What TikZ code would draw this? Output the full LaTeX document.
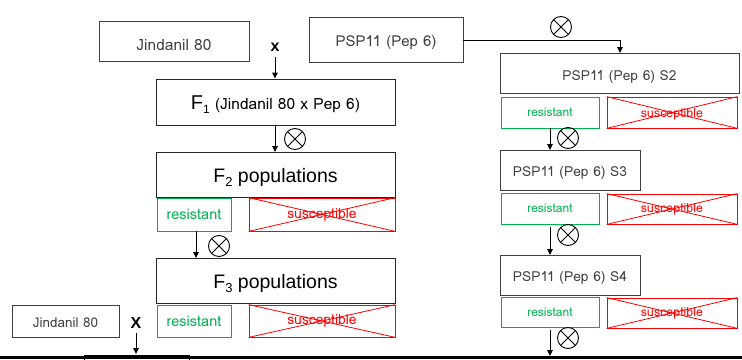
\documentclass[tikz,border=0pt]{standalone}
\usepackage{fontspec}
\setmainfont{Loma}
\newfontfamily\arialf{Liberation Sans}
\usetikzlibrary{arrows.meta}
\definecolor{boxgray}{HTML}{404040}
\definecolor{resgreen}{HTML}{00B050}
\definecolor{susred}{HTML}{FF0000}
\newcommand{\fsz}[1]{\fontsize{#1}{#1}\selectfont}
\newcommand{\dn}[2][3pt]{\raisebox{-#1}[\height][\depth]{#2}}
\tikzset{
  box/.style={draw=boxgray, line width=0.9pt, inner sep=0pt, text=boxgray},
  fbox/.style={draw=black!85, line width=0.9pt, inner sep=0pt, text=black},
  resbox/.style={draw=resgreen, line width=0.8pt, inner sep=0pt, text=resgreen},
  susbox/.style={draw=susred, line width=0.8pt, inner sep=0pt, text=susred},
  flow/.style={draw=black, line width=0.9pt, -{Triangle[length=6pt,width=5.5pt]}},
  crosslbl/.style={font=\arialf\bfseries\fsz{16}, inner sep=0pt},
  selfsym/.style={circle, draw=black, line width=0.9pt, minimum size=21pt, inner sep=0pt,
    path picture={\draw[line width=0.9pt] (path picture bounding box.south west) -- (path picture bounding box.north east)
      (path picture bounding box.north west) -- (path picture bounding box.south east);}},
}
\begin{document}
\begin{tikzpicture}[x=1pt,y=-1pt]
\useasboundingbox (0,0) rectangle (742,359);
% left column
\node[box, minimum width=150pt, minimum height=40pt, font=\fsz{15.5}] (jin1) at (174,41) {\dn[4pt]{Jindanil 80}};
\node[box, minimum width=154pt, minimum height=45pt, font=\fsz{15}] (psp) at (386,39.5) {\dn[3pt]{PSP11 (Pep 6)}};
\node[fbox, minimum width=239pt, minimum height=46pt, font=\fsz{15.5}] (f1) at (275.5,102) {\dn[3pt]{{\arialf\fsz{20}F\raisebox{-4pt}{\fsz{12}1}} (Jindanil 80 x Pep 6)}};
\node[fbox, minimum width=239pt, minimum height=45pt, font=\arialf\fsz{19.5}] (f2) at (275.5,174.5) {\dn[3pt]{F\raisebox{-4pt}{\fsz{13}2} populations}};
\node[resbox, minimum width=74pt, minimum height=33pt, font=\fsz{14.5}] (r2) at (194,214.5) {resistant};
\node[susbox, minimum width=146pt, minimum height=33pt, font=\fsz{13.8}] (s2) at (322,214.5) {susceptible};
\node[fbox, minimum width=239pt, minimum height=45pt, font=\arialf\fsz{19.5}] (f3) at (275.5,280.5) {\dn[3pt]{F\raisebox{-4pt}{\fsz{13}3} populations}};
\node[resbox, minimum width=74pt, minimum height=32pt, font=\fsz{14.5}] (r3) at (194,321) {resistant};
\node[susbox, minimum width=146pt, minimum height=32pt, font=\fsz{13.8}] (s3) at (322,321) {susceptible};
\node[box, minimum width=107pt, minimum height=32pt, font=\fsz{13.5}] (jin2) at (65.5,321) {\dn[2pt]{Jindanil 80}};
% right column
\node[box, minimum width=239pt, minimum height=40pt, font=\fsz{13.8}] (ps2) at (619.5,73) {\dn[4pt]{PSP11 (Pep 6) S2}};
\node[resbox, minimum width=98pt, minimum height=31pt, font=\fsz{12}] (rs2) at (550,112.5) {resistant};
\node[susbox, minimum width=130pt, minimum height=31pt, font=\fsz{12.4}] (ss2) at (672,112.5) {\dn[2pt]{susceptible}};
\node[box, minimum width=140pt, minimum height=40pt, font=\fsz{13.8}] (ps3) at (570,170) {\dn[3pt]{PSP11 (Pep 6) S3}};
\node[resbox, minimum width=98pt, minimum height=31pt, font=\fsz{12}] (rs3) at (550,208.5) {resistant};
\node[susbox, minimum width=130pt, minimum height=30pt, font=\fsz{12.4}] (ss3) at (672,209) {susceptible};
\node[box, minimum width=140pt, minimum height=40pt, font=\fsz{13.8}] (ps4) at (570,275) {\dn[3pt]{PSP11 (Pep 6) S4}};
\node[resbox, minimum width=98pt, minimum height=30pt, font=\fsz{12}] (rs4) at (550,312) {resistant};
\node[susbox, minimum width=130pt, minimum height=30pt, font=\fsz{12.4}] (ss4) at (672,313) {susceptible};
% crosses on susceptible boxes
\foreach \n in {s2,s3,ss2,ss3,ss4}{
  \draw[susred, line width=0.8pt] (\n.north west) -- (\n.south east) (\n.south west) -- (\n.north east);
}
% cross symbols and self symbols
\node[crosslbl] (x1) at (275,47) {x};
\node[crosslbl] (x2) at (136,323) {X};
\node[selfsym] (o1) at (295,139) {};
\node[selfsym] (o2) at (561,27) {};
\node[selfsym] (o3) at (219,246) {};
\node[selfsym] (o4) at (568,138) {};
\node[selfsym] (o5) at (568,235) {};
\node[selfsym] (o6) at (568,338) {};
% bottom cut-off elements
\fill[black] (0,356) rectangle (742,359);
\node[draw=black, line width=0.8pt, minimum width=105pt, minimum height=6pt, inner sep=0pt, anchor=north west] (bot1) at (84,354.5) {};
\coordinate (b2) at (550,356);
\coordinate (b1) at (136,354);
% connectors
\draw[flow] (x1.south |- 0,57) -- (x1.south |- f1.north);
\draw[flow] (275,125) -- (275,152);
\draw[flow] (196,231) -- (196,258);
\draw[flow] (psp.east |- 0,40) -| (620,53);
\draw[flow] (550,128) -- (550,150);
\draw[flow] (550,227) -- (550,255);
\draw[flow] (550,330) -- (b2);
\draw[flow] (136,333) -- (b1);
\end{tikzpicture}
\end{document}
